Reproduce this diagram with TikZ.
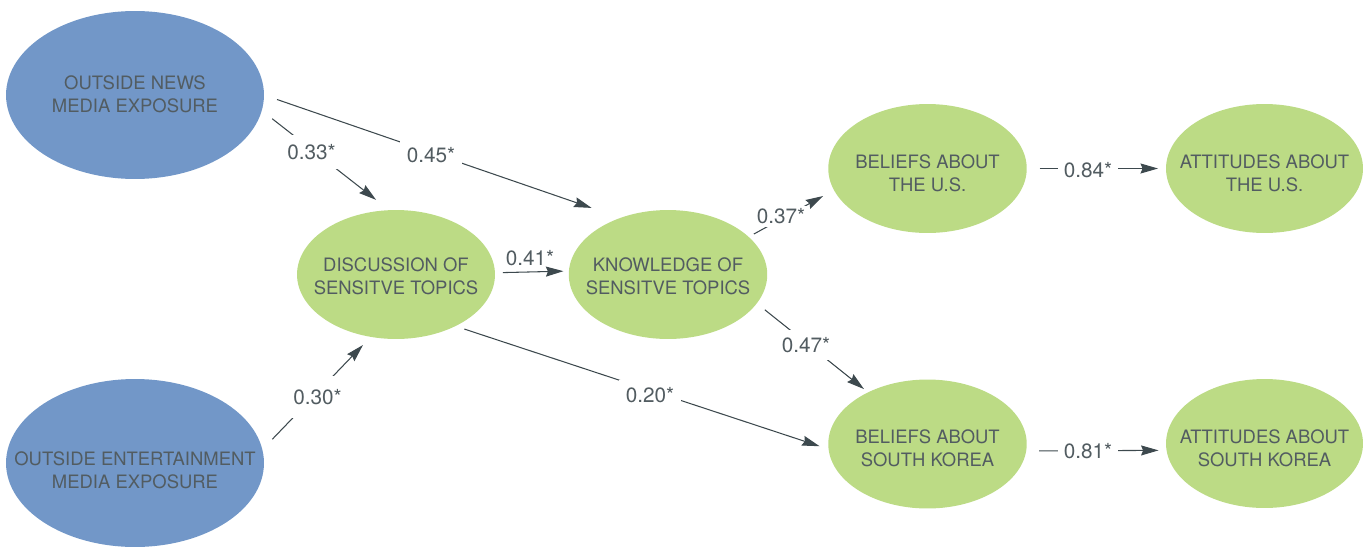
\documentclass[tikz,border=0pt]{standalone}
\usepackage{fontspec}
\usetikzlibrary{shapes.geometric,arrows.meta}
\newfontfamily\heros{TeX Gyre Heros}
\newcommand\ndfont{\heros\fontsize{10.5pt}{13.2pt}\selectfont}
\newcommand\lbfont{\heros\fontsize{11.8pt}{13.2pt}\selectfont}
\definecolor{nblue}{HTML}{7297C8}
\definecolor{ngreen}{HTML}{BCDB85}
\definecolor{tcol}{HTML}{525C61}
\definecolor{lcol}{HTML}{3D494E}
\tikzset{
  ell/.style={ellipse, draw=none, inner sep=0pt, outer sep=0pt},
  blueell/.style={ell, fill=nblue, minimum width=5.16cm, minimum height=3.36cm},
  greenell/.style={ell, fill=ngreen, minimum width=3.97cm, minimum height=2.58cm},
  txt/.style={text=tcol, align=center, font=\ndfont, inner sep=0pt},
  lbl/.style={text=tcol, font=\lbfont, fill=white, inner sep=#1},
  lbl/.default=0.15cm,
  lbltext/.style={text=tcol, font=\lbfont, inner sep=0pt},
  conn/.style={draw=lcol, line width=0.6pt, -{Stealth[length=0.35cm, width=0.2cm, inset=0.04cm]}},
}
\begin{document}
\begin{tikzpicture}[x=0.02cm, y=-0.02cm]
\useasboundingbox (0,0) rectangle (1369,548);
% ellipses
\node[blueell] (news) at (135,95) {};
\node[blueell] (ent) at (135,463) {};
\node[greenell, minimum width=3.96cm] (disc) at (396,274.5) {};
\node[greenell] (know) at (668,274.5) {};
\node[greenell] (bus) at (927.5,168.5) {};
\node[greenell] (bsk) at (927.5,444) {};
\node[greenell, minimum width=3.94cm] (attus) at (1264.5,168.5) {};
\node[greenell, minimum width=3.94cm] (attsk) at (1264.5,443.5) {};
% texts
\node[txt] (tnews) at (135,94.5) {OUTSIDE NEWS\\MEDIA EXPOSURE};
\node[txt] (tent) at (135,470.5) {OUTSIDE ENTERTAINMENT\\MEDIA EXPOSURE};
\node[txt] (tdisc) at (396,276.5) {DISCUSSION OF\\SENSITVE TOPICS};
\node[txt] (tknow) at (668,276) {KNOWLEDGE OF\\SENSITVE TOPICS};
\node[txt] (tbus) at (927.5,173.4) {BELIEFS ABOUT\\THE U.S.};
\node[txt] (tbsk) at (927.5,448.3) {BELIEFS ABOUT\\SOUTH KOREA};
\node[txt] (tattus) at (1264.5,173.4) {ATTITUDES ABOUT\\THE U.S.};
\node[txt] (tattsk) at (1264.5,448.3) {ATTITUDES ABOUT\\SOUTH KOREA};
% connectors
\draw[conn, shorten <=0.266cm, shorten >=0.334cm] (news.-7.6) -- (disc.96.9);
\draw[conn, shorten <=0.276cm, shorten >=0.612cm] (news.0.2) -- (know.130.4);
\draw[conn, shorten <=0.16cm, shorten >=0.11cm] (disc.1.4) -- (know.178.6);
\draw[conn, shorten <=0.288cm, shorten >=0.227cm] (ent.6.85) -- (disc.248.1);
\draw[conn, shorten <=0.19cm, shorten >=0.19cm] (disc.-41.3) -- (bsk.183.3);
\draw[conn, shorten <=0.12cm, shorten >=0.247cm] (know.25.6) -- (bus.193.6);
\draw[conn, shorten <=0.208cm, shorten >=0.105cm] (know.-18.05) -- (bsk.139.5);
\draw[conn, shorten <=0.26cm, shorten >=0.16cm] (bus.0) -- (attus.180);
\draw[conn, shorten <=0.26cm, shorten >=0.16cm] (bsk.-4.46) -- (attsk.184.8);
% labels
\node[lbl=0.19cm] (l33) at (311.5,152) {0.33*};
\node[lbl=0.14cm] (l45) at (431,155.5) {0.45*};
\node[lbltext] (l41) at (530,258) {0.41*};
\node[lbl=0.27cm] (l30) at (317.5,397) {0.30*};
\node[lbl=0.14cm] (l20) at (650,395) {0.20*};
\node[lbl=0.05cm] (l37) at (781,216.5) {0.37*};
\node[lbl=0.15cm] (l47) at (806,345) {0.47*};
\node[lbl=0.12cm] (l84) at (1088,170) {0.84*};
\node[lbl=0.12cm] (l81) at (1088,450.8) {0.81*};
\end{tikzpicture}
\end{document}
